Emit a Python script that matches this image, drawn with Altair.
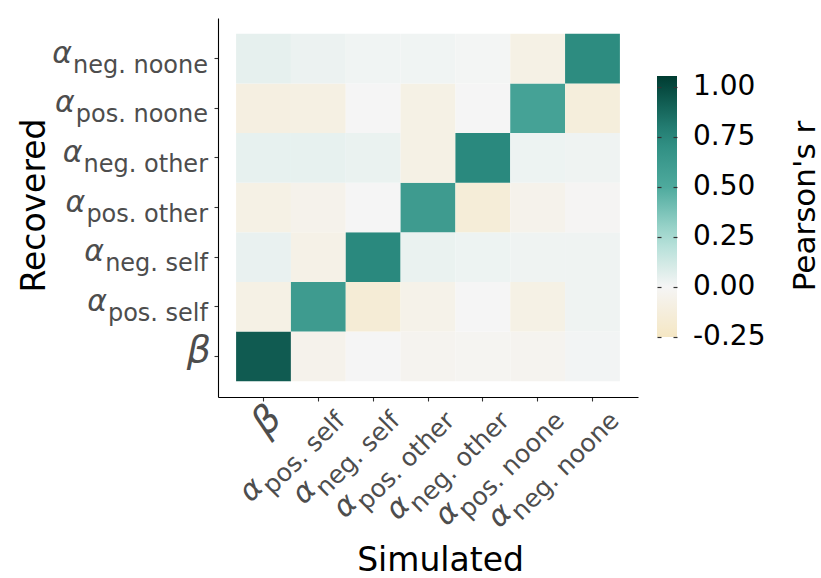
import math

import altair as alt
import pandas as pd

# Parameter order (simulated columns left->right, recovered rows bottom->top)
keys = ["b", "ps", "ns", "po", "no", "pn", "nn"]
greek = ["β", "α", "α", "α", "α", "α", "α"]
subs = ["", "pos. self", "neg. self", "pos. other", "neg. other", "pos. noone", "neg. noone"]

# Pearson's r between simulated (columns) and recovered (rows) parameters
rec_b = [0.93, -0.05, 0.00, -0.03, -0.02, -0.03, 0.01]
rec_ps = [-0.08, 0.61, -0.16, -0.06, 0.00, -0.08, 0.02]
rec_ns = [0.04, -0.07, 0.75, 0.035, 0.025, 0.02, 0.02]
rec_po = [-0.08, -0.05, 0.00, 0.61, -0.15, -0.05, -0.01]
rec_no = [0.045, 0.045, 0.035, -0.08, 0.75, 0.025, 0.02]
rec_pn = [-0.10, -0.09, 0.00, -0.08, 0.00, 0.56, -0.13]
rec_nn = [0.05, 0.03, 0.015, 0.015, 0.005, -0.08, 0.73]
recovered_rows = [rec_b, rec_ps, rec_ns, rec_po, rec_no, rec_pn, rec_nn]

legend_values = [-0.25, 0.0, 0.25, 0.5, 0.75, 1.0]
color_stops = [-0.251, 0.0, 0.25, 0.5, 0.75, 1.0, 1.055]
color_range = ["#f5e7c4", "#f5f5f5", "#a9dcd3", "#4eaa9d", "#2a897e", "#06493f", "#003c31"]

W, H = 420, 379
FONT = "DejaVu Sans"
Y_SUB_SIZE = 24
X_SUB_SIZE = 25
GREEK_SIZE = 30
BETA_SIZE = 38
LABEL_GREY = "#4d4d4d"
X_LABEL_ANGLE = 315  # text rising to the right at 45 degrees
X_LABEL_SHIFT = (28, -8)  # screen offset of each subscript's end from its tick anchor

# DejaVu Sans advance widths (em) used to place the Greek letter before its subscript
ADV = {" ": 0.3179, ".": 0.3179, "e": 0.6152, "f": 0.3521, "g": 0.6348, "h": 0.6338,
       "l": 0.2778, "n": 0.6338, "o": 0.6118, "p": 0.6348, "r": 0.4111, "s": 0.5210,
       "t": 0.3921}


def text_width(s, size):
    return sum(ADV[c] for c in s) * size


# express the screen offset in the rotated text frame (dx along the text, dy across it)
theta = math.radians(360 - X_LABEL_ANGLE)
sx, sy = X_LABEL_SHIFT
shift_along = sx * math.cos(theta) - sy * math.sin(theta)
shift_across = sx * math.sin(theta) + sy * math.cos(theta)

cells = pd.DataFrame(
    [{"sim": keys[j], "rec": keys[i], "r": recovered_rows[i][j]}
     for i in range(len(keys)) for j in range(len(keys))]
)
labels = pd.DataFrame({
    "key": keys,
    "greek": greek,
    "sub": subs,
})
ticks = pd.DataFrame({"v": legend_values})

x_scale = alt.Scale(type="band", domain=keys, paddingInner=0, paddingOuter=0.33)
y_scale = alt.Scale(type="band", domain=keys[::-1], paddingInner=0, paddingOuter=0.32)

axis_common = dict(labels=False, ticks=True, tickSize=4, tickColor="#333333",
                   tickWidth=1.1, domainColor="#000000", domainWidth=1.1, grid=False,
                   titleFont=FONT, titleFontSize=33, titleFontWeight="normal",
                   titleColor="#000000", titleAlign="center", titleBaseline="alphabetic")

heat = alt.Chart(cells).mark_rect().encode(
    x=alt.X("sim:N", scale=x_scale,
            axis=alt.Axis(title="Simulated", titleX=222, titleY=173, **axis_common)),
    y=alt.Y("rec:N", scale=y_scale,
            axis=alt.Axis(title="Recovered", titleAngle=270, titleX=-174, titleY=187,
                          **axis_common)),
    color=alt.Color(
        "r:Q",
        scale=alt.Scale(domain=color_stops, range=color_range, interpolate="rgb"),
        legend=alt.Legend(
            orient="none", legendX=439, legendY=58, title=None, direction="vertical",
            gradientLength=261, gradientThickness=20, gradientStrokeWidth=0,
            values=legend_values,
            labelExpr="datum.value < 0 ? '-' + format(-datum.value, '.2f') : format(datum.value, '.2f')",
            labelFont=FONT, labelFontSize=28, labelColor="#000000", labelOffset=16,
            labelBaseline="middle", labelOverlap=False, padding=0,
        ),
    ),
)

# Subscript parts of the tick labels
y_sub = alt.Chart(labels).mark_text(
    align="right", baseline="alphabetic", dy=14, font=FONT, fontSize=Y_SUB_SIZE,
    color=LABEL_GREY,
).encode(
    y=alt.Y("key:N", scale=y_scale, axis=None),
    x=alt.value(-10),
    text="sub:N",
)

x_sub = alt.Chart(labels).mark_text(
    align="right", baseline="alphabetic", angle=X_LABEL_ANGLE, dx=shift_along,
    dy=shift_across, font=FONT, fontSize=X_SUB_SIZE, color=LABEL_GREY,
).encode(
    x=alt.X("key:N", scale=x_scale, axis=None),
    y=alt.value(412),
    text="sub:N",
)

# Greek letters, each shifted past the width of its own subscript
greek_layers = []
for k, g, s in zip(keys, greek, subs):
    if s:
        wy = text_width(s, Y_SUB_SIZE) + 1
        wx = text_width(s, X_SUB_SIZE) + 1
        size, y_dx, y_dy = GREEK_SIZE, -wy, 4
        x_dx, x_dy = shift_along - wx, shift_across - 10
    else:
        size, y_dx, y_dy = BETA_SIZE, 0, 6
        x_dx, x_dy = 21, 7.4
    greek_layers.append(
        alt.Chart(labels).transform_filter(alt.datum.key == k).mark_text(
            align="right", baseline="alphabetic", dx=y_dx, dy=y_dy, font=FONT,
            fontSize=size, fontStyle="italic", color=LABEL_GREY,
        ).encode(
            y=alt.Y("key:N", scale=y_scale, axis=None),
            x=alt.value(-10 if s else -7),
            text="greek:N",
        )
    )
    greek_layers.append(
        alt.Chart(labels).transform_filter(alt.datum.key == k).mark_text(
            align="right", baseline="alphabetic", angle=X_LABEL_ANGLE,
            dx=x_dx, dy=x_dy, font=FONT, fontSize=size, fontStyle="italic",
            color=LABEL_GREY,
        ).encode(
            x=alt.X("key:N", scale=x_scale, axis=None),
            y=alt.value(412),
            text="greek:N",
        )
    )

# Tick marks on both edges of the colour bar, drawn as label-less axes above the legend
bar_scale = alt.Scale(domain=[color_stops[0], color_stops[-1]], range=[319, 58])
bar_tick_axis = dict(values=legend_values, labels=False, domain=False, grid=False,
                     ticks=True, tickSize=4, tickColor="#333333", tickWidth=1.2,
                     title=None, zindex=2)
bar_ticks_left = alt.Chart(ticks).mark_tick(opacity=0).encode(
    y=alt.Y("v:Q", scale=bar_scale,
            axis=alt.Axis(orient="right", offset=19, **bar_tick_axis)),
)
bar_ticks_right = alt.Chart(ticks).mark_tick(opacity=0).encode(
    y=alt.Y("v:Q", scale=bar_scale,
            axis=alt.Axis(orient="left", offset=-459, **bar_tick_axis)),
)

legend_title = alt.Chart(labels).transform_filter(alt.datum.key == "b").mark_text(
    text="Pearson's r", angle=270, align="center", baseline="top", font=FONT,
    fontSize=31, color="#000000",
).encode(x=alt.value(573), y=alt.value(188))

chart = alt.layer(
    heat, y_sub, x_sub, *greek_layers, bar_ticks_left, bar_ticks_right, legend_title
).resolve_scale(x="independent", y="independent").properties(
    width=W, height=H,
    padding={"left": 218, "top": 18, "right": 183, "bottom": 181},
    autosize=alt.AutoSizeParams(type="none"),
).configure_view(strokeWidth=0)

chart.save("out.html", embed_options={"renderer": "svg", "actions": False})
